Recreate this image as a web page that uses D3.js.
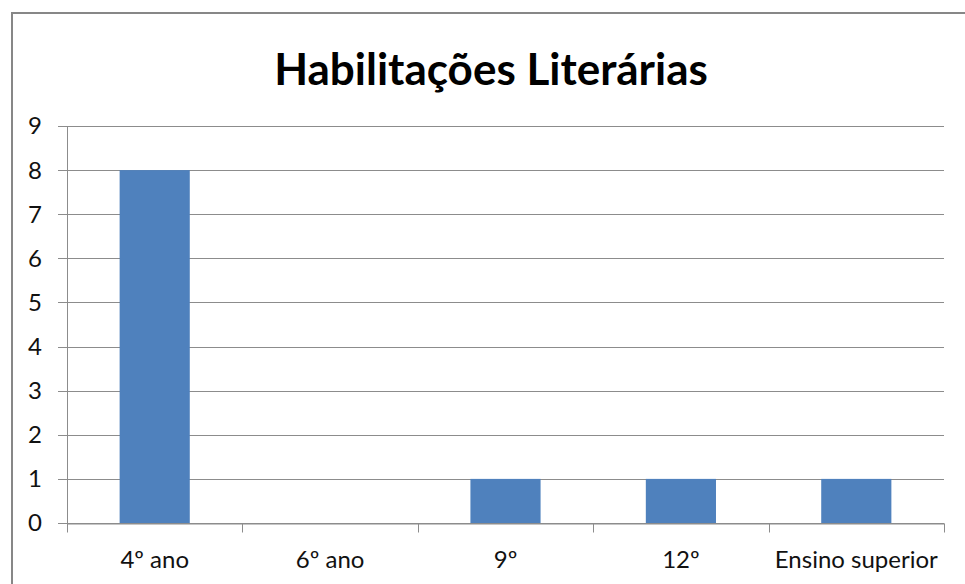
<!DOCTYPE html>
<html>
<head>
<meta charset="utf-8">
<script src="https://cdn.jsdelivr.net/npm/d3@7"></script>
<style>
  body { margin: 0; background: #fff; }
  svg { display: block; }
</style>
</head>
<body>
<div id="chart"></div>
<script>
const categories = ["4º ano", "6º ano", "9º", "12º", "Ensino superior"];
const values = [8, 0, 1, 1, 1];
const yTicks = [0, 1, 2, 3, 4, 5, 6, 7, 8, 9];
const title = "Habilitações Literárias";

const width = 965;
const height = 584;
const margin = { top: 126, right: 21, bottom: 61, left: 67 };
const font = "Lato, 'Open Sans', sans-serif";

const svg = d3
  .select("#chart")
  .append("svg")
  .attr("width", width)
  .attr("height", height);

// outer chart frame (right/bottom edges fall outside the window)
svg
  .append("rect")
  .attr("x", 12)
  .attr("y", 13)
  .attr("width", width + 20)
  .attr("height", height + 20)
  .attr("fill", "#fff")
  .attr("stroke", "#878787")
  .attr("stroke-width", 2);

svg
  .append("text")
  .attr("x", 491)
  .attr("y", 85)
  .attr("text-anchor", "middle")
  .attr("font-family", font)
  .attr("font-weight", "bold")
  .attr("font-size", 44)
  .attr("fill", "#000")
  .text(title);

const x = d3
  .scaleBand()
  .domain(categories)
  .range([margin.left, width - margin.right]);

const y = d3
  .scaleLinear()
  .domain([0, 9])
  .range([height - margin.bottom, margin.top]);

// gridlines
svg
  .append("g")
  .selectAll("line")
  .data(yTicks)
  .join("line")
  .attr("x1", margin.left - 9)
  .attr("x2", width - margin.right)
  .attr("y1", (d) => Math.round(y(d)) + 0.5)
  .attr("y2", (d) => Math.round(y(d)) + 0.5)
  .attr("stroke", "#8c8c8c")
  .attr("stroke-width", 1);

// y labels
svg
  .append("g")
  .selectAll("text")
  .data(yTicks)
  .join("text")
  .attr("x", 42)
  .attr("y", (d) => y(d))
  .attr("dy", "0.35em")
  .attr("text-anchor", "end")
  .attr("font-family", font)
  .attr("font-size", 24)
  .attr("fill", "#111")
  .text((d) => d);

// bars
const barW = x.bandwidth() * 0.4;
svg
  .append("g")
  .selectAll("rect")
  .data(values)
  .join("rect")
  .attr("x", (d, i) => x(categories[i]) + (x.bandwidth() - barW) / 2)
  .attr("y", (d) => y(d))
  .attr("width", barW)
  .attr("height", (d) => y(0) - y(d))
  .attr("fill", "#4f81bd");

// y axis line
svg
  .append("line")
  .attr("x1", margin.left + 0.5)
  .attr("x2", margin.left + 0.5)
  .attr("y1", y(9))
  .attr("y2", y(0))
  .attr("stroke", "#8c8c8c");

// x axis
const xAxis = d3.axisBottom(x).tickSize(0).tickPadding(27);
const gx = svg
  .append("g")
  .attr("transform", `translate(0, ${Math.round(y(0)) + 0.5})`)
  .call(xAxis);
gx.select(".domain").attr("stroke", "#8c8c8c");
gx.selectAll("text")
  .attr("font-family", font)
  .attr("font-size", 24)
  .attr("fill", "#111");

// category separators
const edges = categories.map((c) => x(c)).concat([x.range()[1]]);
gx.selectAll(".sep")
  .data(edges)
  .join("line")
  .attr("class", "sep")
  .attr("x1", (d) => Math.round(d) + 0.5)
  .attr("x2", (d) => Math.round(d) + 0.5)
  .attr("y1", 0)
  .attr("y2", 9)
  .attr("stroke", "#8c8c8c");
</script>
</body>
</html>
